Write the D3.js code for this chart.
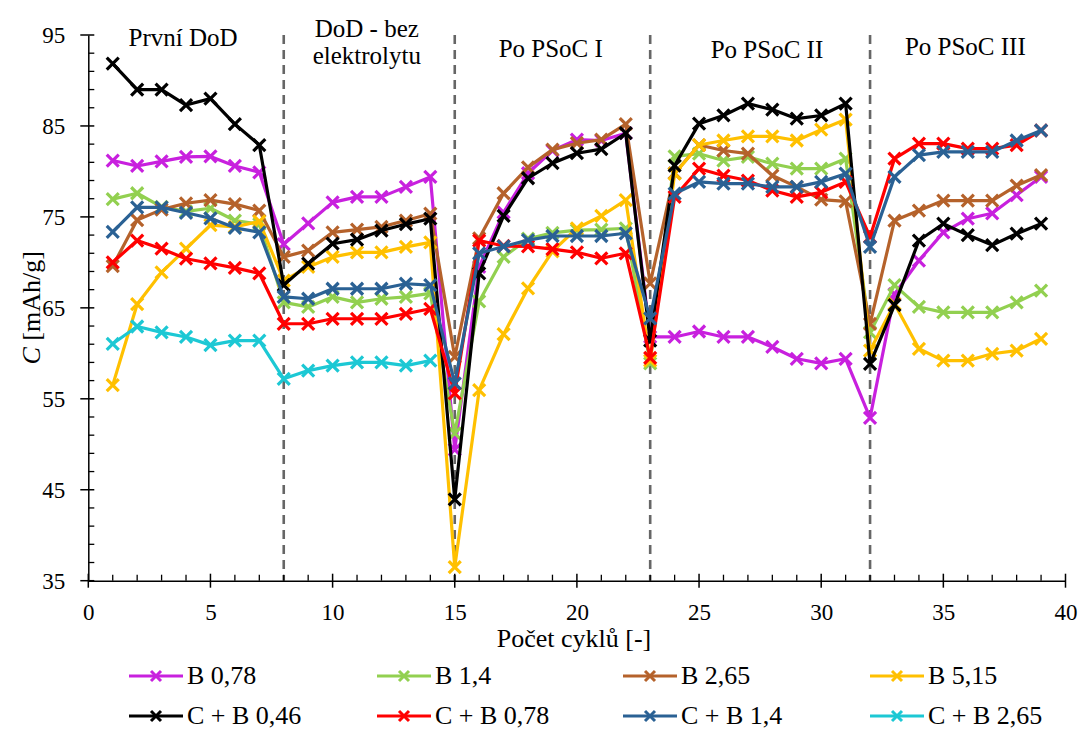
<!DOCTYPE html>
<html><head><meta charset="utf-8">
<script src="https://cdn.jsdelivr.net/npm/d3@7"></script>
<style>body{margin:0;background:#fff}svg{display:block}svg text{font-family:"Liberation Serif","Times New Roman",serif !important;fill:#000}</style>
</head><body><svg id="c" width="1081" height="731"></svg>
<script>
const cycles = [1,2,3,4,5,6,7,8,9,10,11,12,13,14,15,16,17,18,19,20,21,22,23,24,25,26,27,28,29,30,31,32,33,34,35,36,37,38,39];
const b078  = [81.2,80.6,81.1,81.6,81.65,80.6,79.9,72.0,74.3,76.6,77.2,77.2,78.3,79.4,49.4,69.5,75.5,79.8,82.3,83.5,83.4,84.2,61.8,61.8,62.4,61.8,61.8,60.7,59.4,58.9,59.4,52.9,66.5,70.2,73.3,74.8,75.4,77.4,79.4];
const b14   = [76.95,77.6,76.1,75.6,75.95,74.6,74.2,65.6,65.1,66.2,65.6,66.0,66.2,66.6,51.2,65.7,70.6,72.6,73.25,73.55,73.6,73.75,58.9,81.65,81.95,81.2,81.6,80.85,80.3,80.3,81.4,62.3,67.5,65.1,64.5,64.5,64.5,65.6,66.9];
const b265  = [69.6,74.65,75.8,76.5,76.85,76.4,75.7,70.6,71.3,73.3,73.6,73.9,74.6,75.35,59.6,72.65,77.6,80.45,82.4,83.1,83.5,85.2,67.7,79.8,82.9,82.3,81.95,79.55,78.3,76.9,76.7,63.25,74.6,75.7,76.8,76.8,76.8,78.45,79.6];
const b515  = [56.5,65.4,68.9,71.5,74.1,73.9,74.5,68.0,69.5,70.6,71.1,71.1,71.7,72.2,36.5,55.95,62.1,67.15,71.2,73.75,75.1,76.85,59.2,79.75,82.9,83.4,83.85,83.85,83.4,84.6,85.7,60.3,65.45,60.5,59.2,59.2,59.95,60.3,61.6];
const cb046 = [91.85,89.0,89.0,87.3,88.0,85.2,82.9,67.5,69.85,72.05,72.5,73.5,74.2,74.8,43.95,68.8,75.1,79.25,80.9,82.0,82.45,84.2,61.4,80.65,85.25,86.15,87.45,86.8,85.8,86.15,87.45,58.85,65.3,72.4,74.25,73.0,71.9,73.15,74.25];
const cb078 = [70.0,72.4,71.5,70.4,69.9,69.4,68.8,63.25,63.25,63.8,63.8,63.8,64.35,64.9,55.6,72.4,71.8,71.75,71.45,71.1,70.45,71.0,59.5,77.2,80.3,79.55,79.0,77.9,77.2,77.7,78.85,72.8,81.4,83.05,83.05,82.5,82.5,82.9,84.5];
const cb14  = [73.35,76.05,76.05,75.45,74.85,73.8,73.3,66.2,66.0,67.1,67.1,67.1,67.65,67.5,56.7,71.0,71.75,72.45,72.9,72.9,72.9,73.2,63.85,77.55,78.85,78.65,78.65,78.3,78.3,78.85,79.75,71.7,79.4,81.8,82.15,82.15,82.15,83.4,84.5];
const cb265 = [61.05,62.95,62.3,61.8,60.9,61.4,61.4,57.2,58.1,58.65,59.0,59.0,58.65,59.2];

const seriesNames  = ["B 0,78","B 1,4","B 2,65","B 5,15","C + B 0,46","C + B 0,78","C + B 1,4","C + B 2,65"];
const seriesValues = [b078,b14,b265,b515,cb046,cb078,cb14,cb265];
const seriesColors = ["#C820DE","#92D050","#B5622B","#FFC000","#000000","#FF0000","#2A6194","#1CC8D4"];

const xTicks = [0,5,10,15,20,25,30,35,40];
const yTicks = [35,45,55,65,75,85,95];
const phaseBounds = [8,15,23,32];
const phaseLabels = [["První DoD"],["DoD - bez","elektrolytu"],["Po PSoC I"],["Po PSoC II"],["Po PSoC III"]];
const phaseLabelX = [3.88,11.4,18.93,27.78,35.9];
const phaseLabelBase = [46,37,57,58,55];

const FF = "Liberation Serif, Times New Roman, serif";
const svg = d3.select("#c").attr("font-family",FF);
const x = d3.scaleLinear().domain([0,40]).range([88.3,1065.5]);
const y = d3.scaleLinear().domain([35,95]).range([580.7,35]);

svg.append("g").selectAll("line").data(phaseBounds).join("line")
  .attr("x1",d=>x(d)).attr("x2",d=>x(d)).attr("y1",y(95)).attr("y2",y(35))
  .attr("stroke","#666").attr("stroke-width",2.6).attr("stroke-dasharray","9,6");

const yAxis = d3.axisLeft(y).tickValues(yTicks).tickSize(0).tickPadding(0).tickFormat(d3.format("d"));
const gy = svg.append("g").attr("transform",`translate(${x(0)},0)`).call(yAxis).attr("font-family",FF);
gy.select(".domain").attr("stroke","#000").attr("stroke-width",1.5);
gy.selectAll(".tick text").attr("x",-23).attr("dy","0.33em").attr("font-size",23).attr("font-family",FF);
svg.append("g").selectAll("line").data(yTicks).join("line")
  .attr("x1",x(0)-8).attr("x2",x(0)+6).attr("y1",d=>y(d)).attr("y2",d=>y(d)).attr("stroke","#000").attr("stroke-width",1.5);
svg.append("g").selectAll("line").data(d3.range(35,95.01,2).filter(v=>(v-35)%10!==0)).join("line")
  .attr("x1",x(0)).attr("x2",x(0)+6).attr("y1",d=>y(d)).attr("y2",d=>y(d)).attr("stroke","#000").attr("stroke-width",1.3);

const xAxis = d3.axisBottom(x).tickValues(xTicks).tickSize(0).tickPadding(0).tickFormat(d3.format("d"));
const gx = svg.append("g").attr("transform",`translate(0,${y(35)})`).call(xAxis).attr("font-family",FF);
gx.select(".domain").attr("stroke","#000").attr("stroke-width",1.5);
gx.selectAll(".tick text").attr("y",39).attr("dy",0).attr("font-size",23).attr("font-family",FF);
svg.append("g").selectAll("line").data(xTicks).join("line")
  .attr("x1",d=>x(d)).attr("x2",d=>x(d)).attr("y1",y(35)-7).attr("y2",y(35)+7).attr("stroke","#000").attr("stroke-width",1.5);
svg.append("g").selectAll("line").data(d3.range(0,41).filter(v=>v%5!==0)).join("line")
  .attr("x1",d=>x(d)).attr("x2",d=>x(d)).attr("y1",y(35)-6).attr("y2",y(35)).attr("stroke","#000").attr("stroke-width",1.3);

svg.append("text").attr("x",574).attr("y",647).attr("text-anchor","middle").attr("font-size",26).attr("font-family",FF).text("Počet cyklů [-]");
const yt = svg.append("text").attr("transform",`translate(40,${(y(35)+y(95))/2}) rotate(-90)`).attr("text-anchor","middle").attr("font-size",26).attr("font-family",FF);
yt.append("tspan").attr("font-style","italic").text("C");
yt.append("tspan").text(" [mAh/g]");

phaseLabels.forEach((lines,i)=>{
  lines.forEach((t,j)=>{
    svg.append("text").attr("x",x(phaseLabelX[i])).attr("y",phaseLabelBase[i]+j*27)
      .attr("text-anchor","middle").attr("font-size",25).attr("font-family",FF).text(t);
  });
});

const line = d3.line().x((d,i)=>x(cycles[i])).y(d=>y(d));
const cross = s=>`M${-s},${-s}L${s},${s}M${-s},${s}L${s},${-s}`;
seriesValues.forEach((vals,k)=>{
  const g = svg.append("g");
  g.append("path").datum(vals).attr("d",line).attr("fill","none").attr("stroke",seriesColors[k]).attr("stroke-width",3.2).attr("stroke-linejoin","round");
  g.selectAll("path.m").data(vals).join("path").attr("class","m")
    .attr("transform",(d,i)=>`translate(${x(cycles[i])},${y(d)})`)
    .attr("d",cross(6)).attr("stroke",seriesColors[k]).attr("stroke-width",3.2).attr("fill","none");
});

const legX = [129,377,623,870], legY = [676,716];
seriesNames.forEach((n,k)=>{
  const cx = legX[k%4], cy = legY[Math.floor(k/4)];
  const g = svg.append("g").attr("transform",`translate(${cx},${cy})`);
  g.append("line").attr("x1",0).attr("x2",54).attr("y1",0).attr("y2",0).attr("stroke",seriesColors[k]).attr("stroke-width",3.2);
  g.append("path").attr("transform","translate(27,0)").attr("d",cross(5)).attr("stroke",seriesColors[k]).attr("stroke-width",3).attr("fill","none");
  g.append("text").attr("x",58).attr("y",8).attr("font-size",26).attr("font-family",FF).text(n);
});
</script></body></html>
